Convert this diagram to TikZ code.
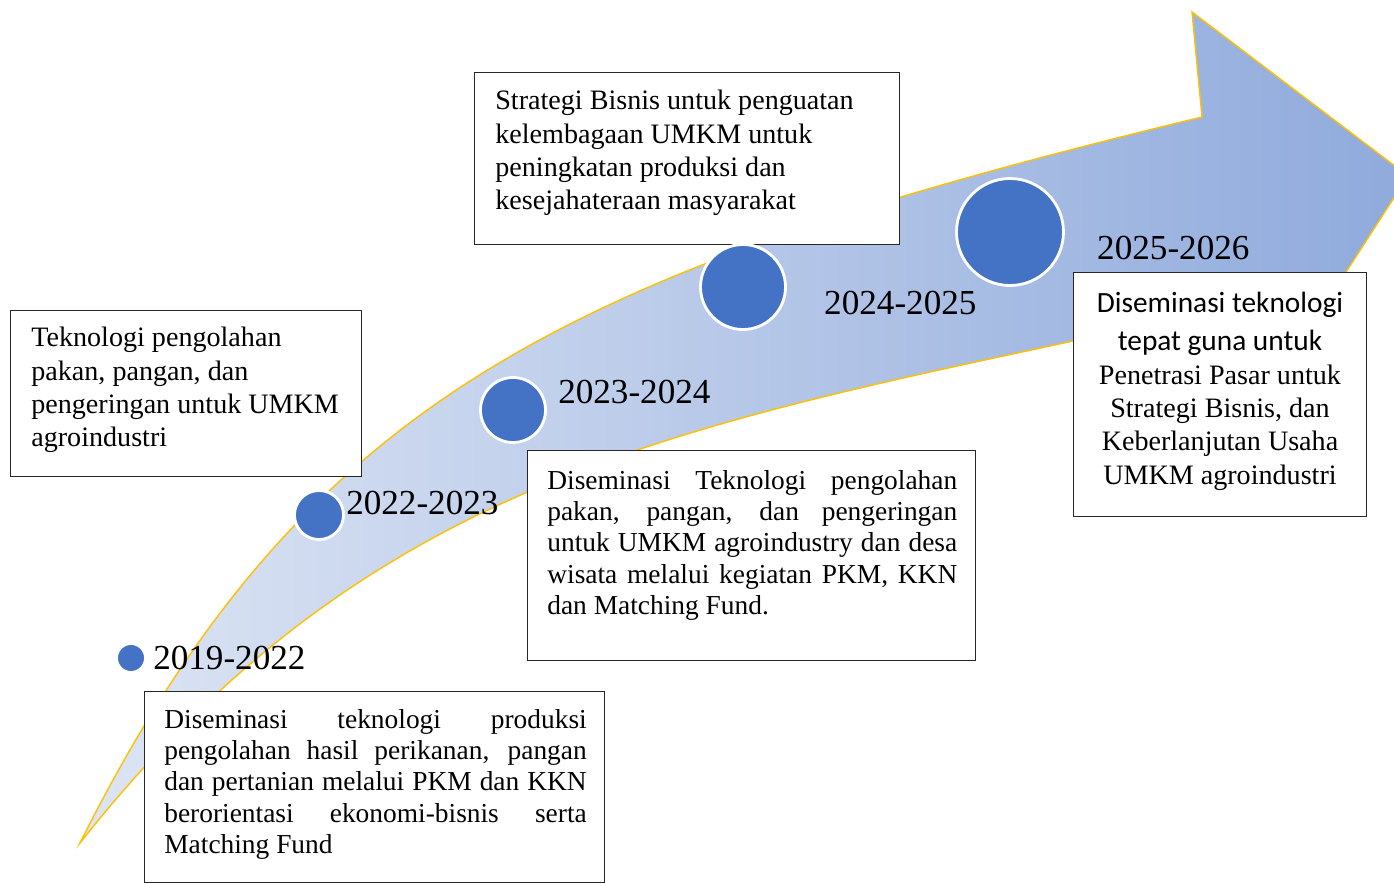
\documentclass[tikz,border=0pt]{standalone}
\usepackage{fontspec}
\setmainfont{Liberation Serif}
\setsansfont{Carlito}
\usetikzlibrary{positioning}
\definecolor{dotblue}{HTML}{4472C4}
\definecolor{rimgold}{HTML}{FFC000}
\definecolor{lightband}{RGB}{221,229,244}
\definecolor{darkband}{RGB}{143,170,220}

\begin{document}
\begin{tikzpicture}[x=0.02cm,y=-0.02cm]

    \tikzset{
      dot/.style={
        circle,
        fill=dotblue,
        draw=white,
        line width=1.6pt,
        inner sep=0pt,
      },
      yearlabel/.style={inner sep=0pt, font=\fontsize{20}{24}\selectfont},
      box/.style={draw=black!85, fill=white, line width=0.8pt, inner sep=0pt, anchor=north west},
      boxtext/.style={inner sep=0pt, anchor=north west, font=\fontsize{16}{18.9}\selectfont},
    }
    \useasboundingbox (0,0) rectangle (1394,883);
    \clip (0,0) rectangle (1394,883);
    % arrow
    \draw[draw=rimgold, line width=0.8pt, left color=lightband, right color=darkband]
      (80,843) .. controls (304,396) and (570,270) .. (1202,117)
      -- (1192,12) -- (1408,176) -- (1257,410) -- (1215,310)
      .. controls (727,420) and (390,450) .. (80,843) -- cycle;

    \node[box, minimum width=7.02cm, minimum height=3.32cm] (b1) at (10,310) {};
    \node[boxtext, align=left] (t1) at (31,327)
      {Teknologi pengolahan\\pakan, pangan, dan\\pengeringan untuk UMKM\\agroindustri};

    \node[box, minimum width=8.5cm, minimum height=3.44cm] (b2) at (474,72) {};
    \node[boxtext, align=left] (t2) at (495,90)
      {Strategi Bisnis untuk penguatan\\kelembagaan UMKM untuk\\peningkatan produksi dan\\kesejahateraan masyarakat};

    \node[box, minimum width=8.96cm, minimum height=4.2cm] (b3) at (527,450) {};
    \node[boxtext, text width=8.2cm, align=justify, font=\fontsize{15.6}{17.8}\selectfont] (t3) at (547,470)
      {Diseminasi Teknologi pengolahan\linebreak pakan, pangan, dan pengeringan\linebreak
       untuk UMKM agroindustry dan desa\linebreak wisata melalui kegiatan PKM, KKN\linebreak
       dan Matching Fund.};

    \node[box, minimum width=5.86cm, minimum height=4.88cm] (b4) at (1073,272) {};
    \node[boxtext, anchor=north, align=center] (t4) at (1220,292)
      {{\fontsize{16.7}{19}\sffamily\selectfont Diseminasi teknologi}\\[2.5pt]
       {\fontsize{16.7}{19}\sffamily\selectfont tepat guna untuk}\\[0.5pt]
       Penetrasi Pasar untuk\\Strategi Bisnis, dan\\Keberlanjutan Usaha\\UMKM agroindustri};

    \node[box, minimum width=9.2cm, minimum height=3.82cm] (b5) at (144,691) {};
    \node[boxtext, text width=8.45cm, align=justify, font=\fontsize{15.6}{17.8}\selectfont] (t5) at (164,709)
      {Diseminasi teknologi produksi\linebreak pengolahan hasil perikanan, pangan\linebreak
       dan pertanian melalui PKM dan KKN\linebreak berorientasi ekonomi-bisnis serta\linebreak
       Matching Fund};

    % milestones
    \node[dot, minimum size=0.58cm] (c1) at (131,658) {};
    \node[dot, minimum size=0.98cm] (c2) at (319,515) {};
    \node[dot, minimum size=1.3cm] (c3) at (513,410) {};
    \node[dot, minimum size=1.7cm] (c4) at (743,287) {};
    \node[dot, minimum size=2.14cm] (c5) at (1010,232) {};

    \node[yearlabel, right=0.12cm of c1] (y1) {2019-2022};
    \node[yearlabel, right=0.02cm of c2, yshift=0.24cm] (y2) {2022-2023};
    \node[yearlabel, right=0.22cm of c3, yshift=0.36cm] (y3) {2023-2024};
    \node[yearlabel, right=0.74cm of c4, yshift=-0.32cm] (y4) {2024-2025};
    \node[yearlabel, right=0.64cm of c5, yshift=-0.32cm] (y5) {2025-2026};

\end{tikzpicture}
\end{document}
